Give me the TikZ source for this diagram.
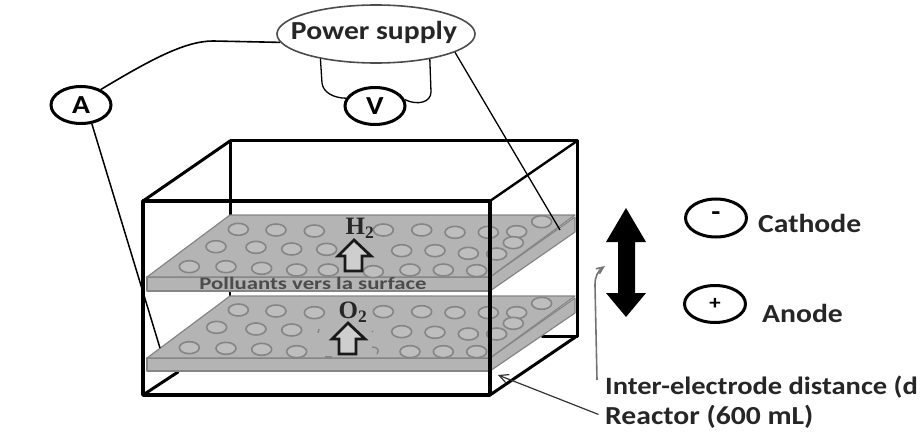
\documentclass[tikz,border=0pt]{standalone}
\usepackage{fontspec}
\setmainfont{Carlito}
\newfontfamily\serifb{Liberation Serif}
\newfontfamily\widefont[FakeStretch=1.14]{Carlito}
\newfontfamily\widerfont[FakeStretch=1.3]{Carlito}
\usetikzlibrary{shapes.geometric,arrows.meta}
\definecolor{plate}{HTML}{B4B4B4}
\definecolor{plateedge}{HTML}{858585}
\definecolor{holeedge}{HTML}{858585}
\definecolor{holefill}{HTML}{BEBEBE}
\tikzset{
  x=1pt,y=-1pt,
  meter/.style={draw=black,line width=3pt,ellipse,inner sep=0pt,minimum width=60pt,minimum height=37pt,font=\widefont\fontsize{26}{28}\selectfont\bfseries},
  label/.style={font=\widefont\fontsize{26}{28}\selectfont\bfseries,text=black!85,inner sep=0pt,anchor=west},
  gas/.style={font=\serifb\fontsize{25}{27}\selectfont\bfseries,text=black!85,inner sep=0pt},
  wire/.style={draw=black,line width=1.3pt},
  frame/.style={draw=black,line width=3.8pt,line cap=round,line join=round},
  platetop/.style={fill=plate,draw=plateedge,line width=1.2pt,line join=round},
  hole/.style={draw=holeedge,fill=holefill,line width=1.6pt},
  hollowup/.style={draw=black!90,fill=holefill!75!white,line width=2.8pt,line join=miter},
}
\newcommand{\holes}[1]{\foreach \hx/\hy in {#1} {\draw[hole] (\hx/3+130,\hy/3+130) ellipse (10pt and 6pt);}}
\begin{document}
\begin{tikzpicture}
\useasboundingbox (0,0) rectangle (921,441);
% back frame
\draw[frame,line width=3pt] (230,215) -- (230,141) -- (577,141) -- (577,336) -- (542,336);
\draw[frame,line width=2pt] (230,291) -- (230,297);
\draw[frame,line width=3pt] (143,201) -- (230,141);
\draw[frame,line width=2.4pt] (490,201) -- (577,141);
\draw[frame,line width=3pt] (143,395) -- (178,372);
\draw[frame,line width=3pt] (490,395) -- (577,336);
% upper plate
\path[platetop] (490,277) -- (575,217) -- (575,232) -- (490,291) -- cycle;
\path[platetop] (147,277) -- (490,277) -- (490,291) -- (147,291) -- cycle;
\path[platetop] (147,277) -- (230,215) -- (575,215) -- (490,277) -- cycle;
\holes{325/298,438/300,553/303,760/300,875/300,975/307,1075/307,1160/305,1235/275,
258/350,378/352,485/357,590/358,815/362,915/362,1015/370,1100/372,1150/338,
178/410,288/410,395/415,500/420,595/420,730/425,840/420,940/420,1040/422}
% lower plate
\path[platetop] (490,358) -- (575,298) -- (575,313) -- (490,371) -- cycle;
\path[platetop] (147,358) -- (490,358) -- (490,371) -- (147,371) -- cycle;
\path[platetop] (147,358) -- (230,296) -- (575,296) -- (490,358) -- cycle;
\holes{325/540,438/543,553/548,760/545,875/545,975/548,1075/548,1160/548,1235/520,
260/592,378/597,485/600,815/605,915/607,1015/612,1100/612,1150/580,
178/653,288/655,395/658,500/665,840/665,940/665,1040/665}
% remains of holes beside the lower arrow
\draw[draw=holeedge,line width=1.4pt] (319,329) -- (318,333);
\draw[draw=holeedge,line width=1.4pt] (372,331) -- (373,332);
\draw[draw=holeedge,line width=1.4pt] (372,347) .. controls (377,347) and (380,350) .. (377,354);
\draw[draw=holeedge,line width=1.4pt] (325,357) -- (332,357);
% front frame
\draw[frame] (143,201) rectangle (490,395);
\draw[frame,line width=3pt] (577,141) -- (577,336);
% gases
\node[gas] (h2) at (360,228) {H\textsubscript{2}};
\node[gas] (o2) at (353,312) {O\textsubscript{2}};
\draw[hollowup] (354,240) -- (371,256) -- (362,256) -- (362,271) -- (345,271) -- (345,256) -- (338,256) -- cycle;
\draw[hollowup] (348,323) -- (365,339) -- (356,339) -- (356,354) -- (339,354) -- (339,339) -- (332,339) -- cycle;
\node[font=\widerfont\fontsize{17.5}{19}\selectfont\bfseries,text=black!70,inner sep=0pt] (poll) at (313,283) {Polluants vers la surface};
% meters
\node[draw=black!70,line width=1.6pt,ellipse,inner sep=0pt,minimum width=198pt,minimum height=58pt] (ps) at (376,34) {};
\node[font=\widefont\fontsize{26}{28}\selectfont\bfseries,text=black!85,inner sep=0pt] (pst) at (374,32) {Power supply};
\node[meter] (A) at (81,105) {A};
\node[meter] (V) at (375,106) {V};
\coordinate (pa) at (160,348);
\coordinate (pc) at (560,230);
\draw[wire,line width=1.6pt] (A.38) .. controls (150,60) and (185,41) .. (213,41) -- (ps.-175);
\draw[wire,line width=1.5pt] (A.-60) -- (pa);
\draw[wire] (ps.-156) -- (322,83) .. controls (323,92) and (333,98) .. (V.165);
\draw[wire] (ps.-25) -- (431,92) .. controls (431,102) and (418,106) .. (V.12);
\draw[wire] (ps.-13) -- (pc);
% legend
\node[meter,minimum width=61pt,minimum height=38pt] (cath) at (716,218) {\raisebox{3pt}{-}};
\node[meter,minimum width=61pt,minimum height=37pt] (anod) at (715,304) {\fontsize{20}{22}\selectfont +};
\node[label] (tc) at (758,223) {Cathode};
\node[label] (ta) at (762,313) {Anode};
% double arrow
\fill[black] (626,208) -- (646,242) -- (635,242) -- (635,293) -- (646,293) -- (626,317) -- (606,293) -- (618,293) -- (618,242) -- (606,242) -- cycle;
% labels
\node[label,font=\widefont\fontsize{25}{28}\selectfont\bfseries] (ie) at (605,387) {Inter-electrode distance (d};
\node[label] (re) at (605,417) {Reactor (600 mL)};
\coordinate (ietip) at (605,266);
\coordinate (iefoot) at (597,380);
\draw[draw=black!55,line width=1.6pt,-{Straight Barb[length=7pt,width=6pt]}] (iefoot) -- (595,285) .. controls (595,276) and (598,271) .. (ietip);
\coordinate (retip) at (498,375);
\draw[draw=black!80,line width=1.2pt,shorten <=7pt,-{Straight Barb[length=9pt,width=9pt]}] (re.west) -- (retip);
\end{tikzpicture}
\end{document}
